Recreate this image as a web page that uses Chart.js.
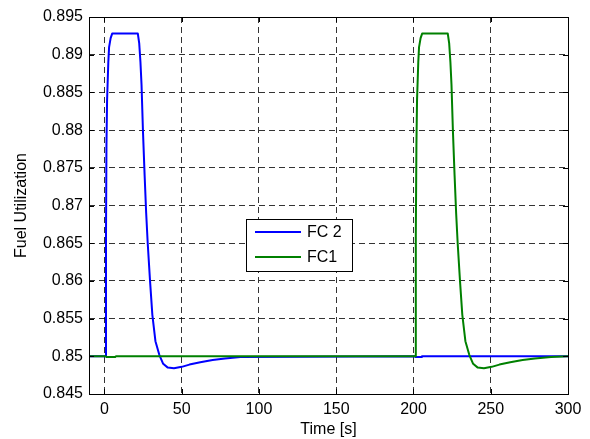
<!DOCTYPE html>
<html>
<head>
<meta charset="utf-8">
<script src="https://cdn.jsdelivr.net/npm/chart.js@4/dist/chart.umd.min.js"></script>
<style>
  html, body { margin: 0; padding: 0; background: #fff; }
  #wrap { width: 590px; height: 439px; position: relative; }
</style>
</head>
<body>
<div id="wrap"><canvas id="chart"></canvas></div>
<script>
// FC 2 (blue): pulse at t ~ 1 s
const fc2Time = [-10, 0.8, 1.0, 1.3, 1.7, 2.5, 3.0, 4.0, 5.0, 21.6, 22.5, 23.3, 24.0, 24.9, 26, 27, 28, 29.5, 31, 33, 35.5, 38, 41, 45, 50, 55, 62, 70, 78, 88, 200.8, 201.2, 205, 205.5, 300];
const fc2Value = [0.85, 0.85, 0.866, 0.878, 0.884, 0.889, 0.891, 0.8922, 0.8928, 0.8928, 0.8915, 0.889, 0.886, 0.880, 0.874, 0.869, 0.865, 0.860, 0.8555, 0.852, 0.8502, 0.849, 0.8485, 0.84842, 0.8486, 0.8489, 0.8492, 0.8495, 0.8497, 0.8499, 0.85, 0.84992, 0.84992, 0.85, 0.85];

// FC1 (green): pulse at t ~ 201 s
const fc1Time = [-10, 0.8, 1.2, 7.0, 7.5, 201.2, 201.5, 201.9, 202.3, 203.1, 203.6, 204.6, 205.6, 222.2, 223.1, 223.9, 224.6, 225.5, 226.6, 227.6, 228.6, 230.1, 231.6, 233.6, 236.1, 238.6, 241.6, 245.6, 250.6, 255.6, 262.6, 270.6, 278.6, 289, 300];
const fc1Value = [0.85, 0.85, 0.84992, 0.84992, 0.85, 0.85, 0.866, 0.878, 0.884, 0.889, 0.891, 0.8922, 0.8928, 0.8928, 0.8915, 0.889, 0.886, 0.880, 0.874, 0.869, 0.865, 0.860, 0.8555, 0.852, 0.8502, 0.849, 0.8485, 0.84842, 0.8486, 0.8489, 0.8492, 0.8495, 0.8497, 0.8499, 0.85];

const xTicks = [0, 50, 100, 150, 200, 250, 300];
const yTicks = [0.845, 0.85, 0.855, 0.86, 0.865, 0.87, 0.875, 0.88, 0.885, 0.89, 0.895];
const yTickLabels = ['0.845', '0.85', '0.855', '0.86', '0.865', '0.87', '0.875', '0.88', '0.885', '0.89', '0.895'];

const FONT = 'Arial, "Liberation Sans", sans-serif';

const toPoints = (xs, ys) => xs.map((x, i) => ({ x, y: ys[i] }));

// matlab style box, inward ticks and the legend inside the axes
const boxPlugin = {
  id: 'boxPlugin',
  afterDraw(chart) {
    const { ctx, chartArea: a, scales } = chart;
    ctx.save();
    ctx.strokeStyle = '#000';
    ctx.lineWidth = 1;
    ctx.beginPath();
    xTicks.forEach((v) => {
      const px = Math.round(scales.x.getPixelForValue(v)) + 0.5;
      ctx.moveTo(px, a.bottom); ctx.lineTo(px, a.bottom - 5);
      ctx.moveTo(px, a.top); ctx.lineTo(px, a.top + 5);
    });
    yTicks.forEach((v) => {
      const py = Math.round(scales.y.getPixelForValue(v)) + 0.5;
      ctx.moveTo(a.left, py); ctx.lineTo(a.left + 5, py);
      ctx.moveTo(a.right, py); ctx.lineTo(a.right - 5, py);
    });
    ctx.stroke();
    ctx.strokeRect(Math.round(a.left) + 0.5, Math.round(a.top) + 0.5, Math.round(a.right - a.left), Math.round(a.bottom - a.top));

    // legend
    const lx = 246, ly = 219, lw = 106, lh = 52;
    ctx.fillStyle = '#fff';
    ctx.fillRect(lx, ly, lw, lh);
    ctx.strokeRect(lx + 0.5, ly + 0.5, lw, lh);
    ctx.font = '16px ' + FONT;
    ctx.textBaseline = 'middle';
    chart.data.datasets.forEach((ds, i) => {
      const y = ly + 13 + i * 25;
      ctx.strokeStyle = ds.borderColor;
      ctx.lineWidth = 2;
      ctx.beginPath();
      ctx.moveTo(lx + 9, y); ctx.lineTo(lx + 55, y);
      ctx.stroke();
      ctx.fillStyle = '#000';
      ctx.fillText(ds.label, lx + 61, y + 1);
    });
    ctx.restore();
  }
};

new Chart(document.getElementById('chart'), {
  type: 'line',
  data: {
    datasets: [
      { label: 'FC 2', data: toPoints(fc2Time, fc2Value), borderColor: '#0000ff', borderWidth: 2, order: 1 },
      { label: 'FC1', data: toPoints(fc1Time, fc1Value), borderColor: '#008000', borderWidth: 2, order: 0 }
    ]
  },
  options: {
    responsive: true,
    maintainAspectRatio: false,
    animation: false,
    elements: { point: { radius: 0 }, line: { tension: 0, borderJoinStyle: 'round' } },
    layout: { padding: { top: 17, right: 22, left: 0, bottom: 0 } },
    plugins: { legend: { display: false }, tooltip: { enabled: false } },
    scales: {
      x: {
        type: 'linear',
        min: -10,
        max: 300,
        afterBuildTicks: (s) => { s.ticks = xTicks.map((v) => ({ value: v })); },
        afterFit: (s) => { s.height = 45; },
        grid: { color: 'rgba(0,0,0,0.8)', lineWidth: 1, drawTicks: false },
        border: { display: false, dash: [6, 4] },
        ticks: { color: '#000', padding: 6, font: { family: FONT, size: 16 }, maxRotation: 0 },
        title: { display: true, text: 'Time [s]', color: '#000', font: { family: FONT, size: 16 }, padding: { top: 0, bottom: 0 } }
      },
      y: {
        min: 0.845,
        max: 0.895,
        afterBuildTicks: (s) => { s.ticks = yTicks.map((v) => ({ value: v })); },
        afterFit: (s) => { s.width = 89; },
        grid: { color: 'rgba(0,0,0,0.8)', lineWidth: 1, drawTicks: false },
        border: { display: false, dash: [6, 4] },
        ticks: {
          color: '#000', padding: 6, font: { family: FONT, size: 16 },
          callback: (v, i) => yTickLabels[i]
        },
        title: { display: true, text: 'Fuel Utilization', color: '#000', font: { family: FONT, size: 16 }, padding: { top: 12, bottom: 0 } }
      }
    }
  },
  plugins: [boxPlugin]
});
</script>
</body>
</html>
